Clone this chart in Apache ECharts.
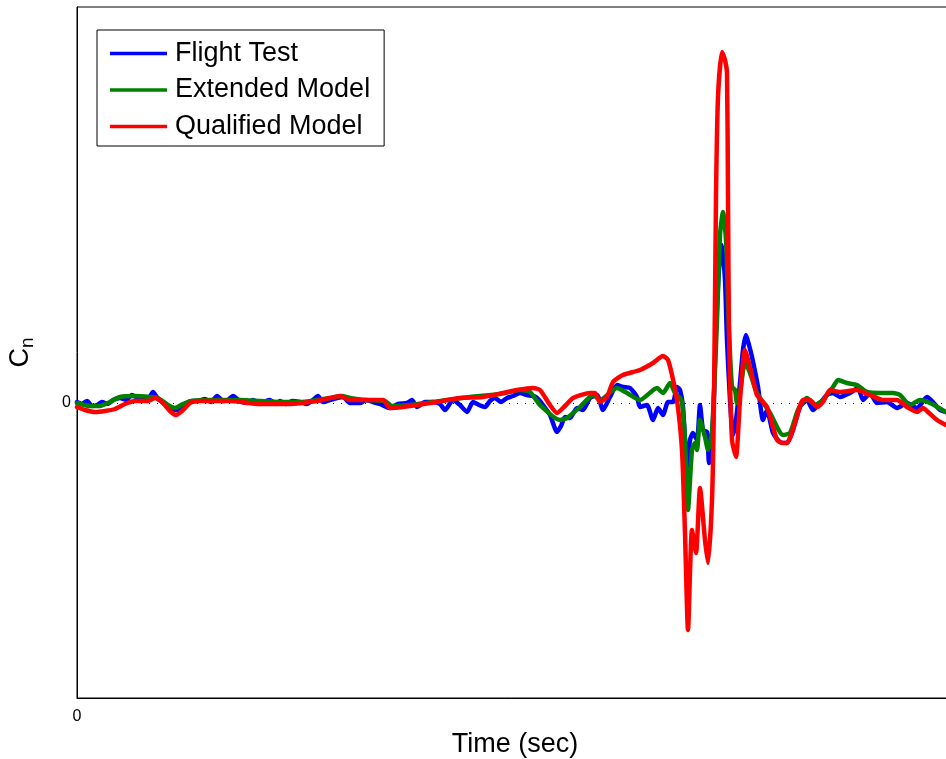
<!DOCTYPE html>
<html>
<head>
<meta charset="utf-8">
<script src="https://cdn.jsdelivr.net/npm/echarts@6/dist/echarts.min.js"></script>
<style>
html,body{margin:0;padding:0;background:#fff;}
#chart{width:946px;height:759px;}
</style>
</head>
<body>
<div id="chart"></div>
<script>
// Series names
var seriesNames = ['Flight Test', 'Extended Model', 'Qualified Model'];
// Tick labels shown
var xTickLabels = ['0'];
var yTickLabels = ['0'];

// [time, Cn]
var flightTest = [
[0,0.001],[0.5,-0.001],[1.0,0.002],[1.5,-0.003],[2.0,-0.002],[2.5,0.001],[3.1,-0.001],[3.6,0.003],
[4.3,0.005],[4.9,0.003],[5.5,0.008],[6.1,0.005],[6.6,0.006],[7.1,0.004],[7.6,0.011],[8.1,0.004],
[8.8,-0.001],[9.5,-0.007],[10.1,-0.007],[10.8,-0.001],[11.5,0.002],[12.1,0.002],[12.8,0.004],[13.4,0.001],
[14.0,0.007],[14.6,0.002],[15.1,0.003],[15.6,0.007],[16.3,0.002],[17.0,0],[17.6,0.003],[18.3,-0.001],
[18.9,0.002],[19.3,0.003],[19.9,-0.001],[20.3,0.002],[20.9,-0.001],[21.5,0.002],[22.3,0.001],[23.0,-0.001],
[23.6,0.003],[24.1,0.007],[24.6,0.001],[25.3,0.003],[26.0,0.005],[26.6,0.006],[27.3,0],[28.3,0],
[28.9,0.003],[29.6,0.001],[30.3,-0.001],[31.3,-0.005],[32.1,-0.001],[33.0,0],[33.5,0.003],[34.0,-0.004],
[34.8,0.001],[35.6,0.001],[36.3,-0.001],[36.8,-0.007],[37.6,0.003],[38.3,-0.002],[39.0,-0.009],[39.6,0.001],
[40.2,-0.002],[40.8,-0.004],[41.3,0.002],[41.8,0.005],[42.4,0.001],[43.0,0.005],[43.6,0.007],[44.3,0.010],
[45.0,0.008],[45.6,0.007],[46.0,0.005],[46.6,-0.002],[47.3,-0.012],[48.0,-0.029],[48.4,-0.023],[48.8,-0.014],
[49.3,-0.015],[50.0,-0.005],[50.6,-0.007],[51.3,0.005],[52.0,0.008],[52.6,-0.007],[53.3,0.006],[54.0,0.018],
[54.6,0.016],[55.3,0.015],[56.0,0.006],[56.3,-0.004],[57.0,-0.002],[57.6,-0.017],[58.1,-0.005],[58.6,-0.012],
[59.1,0.001],[59.6,0.001],[60.0,0.016],[60.3,0.013],[60.6,-0.004],[61.0,-0.064],[61.3,-0.037],[61.6,-0.030],
[62.0,-0.037],[62.3,-0.002],[62.6,-0.027],[63.0,-0.029],[63.2,-0.060],[63.6,-0.017],[63.9,0.073],[64.2,0.133],
[64.5,0.158],[64.8,0.123],[65.0,0.063],[65.3,0.003],[65.6,-0.032],[65.9,-0.017],[66.3,0.020],[66.6,0.053],
[66.9,0.068],[67.2,0.058],[67.5,0.046],[68.1,0.016],[68.6,-0.017],[69.0,-0.007],[69.6,-0.030],[70.3,-0.039],
[71.0,-0.040],[71.6,-0.027],[72.3,-0.004],[73.0,0.003],[73.6,-0.007],[74.3,0],[75.0,0.008],[75.6,0.010],
[76.3,0.006],[77.3,0.010],[78.1,0.015],[78.6,0.003],[79.3,0.010],[80.0,0],[81.0,0.001],[82.0,-0.005],
[83.0,0],[84.0,-0.005],[85.0,0.006],[85.6,0.001],[86.3,-0.007],[86.9,-0.009]
];

var extendedModel = [
[0,0],[1.3,-0.003],[2.3,-0.003],[3.3,0.001],[4.3,0.006],[5.8,0.007],[7.3,0.006],[8.1,0.005],
[9.1,-0.002],[9.8,-0.005],[10.6,-0.001],[11.5,0.002],[13.3,0.003],[16.3,0.003],[18.3,0.002],[20.3,0.001],
[22.3,0.001],[24.0,0.003],[25.3,0.005],[26.5,0.007],[27.3,0.005],[28.8,0.003],[30.8,0.002],[31.5,-0.003],
[33.3,-0.002],[36.3,0.002],[39.3,0.006],[42.3,0.009],[44.3,0.013],[45.3,0.011],[46.3,-0.002],[48.3,-0.017],
[49.0,-0.015],[50.3,-0.004],[51.6,0.008],[52.3,0.003],[54.0,0.015],[55.0,0.010],[56.3,0.003],[58.0,0.015],
[58.6,0.010],[59.3,0.020],[59.8,0.010],[60.3,0.005],[60.5,0.001],[60.8,-0.037],[61.1,-0.107],[61.5,-0.047],
[61.8,-0.040],[62.0,-0.047],[62.3,-0.017],[62.8,-0.034],[63.1,-0.047],[63.5,-0.030],[64.0,0.083],[64.3,0.168],
[64.6,0.191],[64.9,0.163],[65.2,0.073],[65.5,0.016],[65.8,0.013],[66.0,0],[66.3,0.010],[66.8,0.041],
[67.3,0.030],[68.0,0.010],[69.3,-0.010],[70.6,-0.032],[71.3,-0.030],[72.1,-0.007],[73.0,0.005],[73.8,-0.002],
[74.6,0.003],[75.6,0.016],[76.1,0.023],[77.0,0.020],[78.0,0.018],[79.0,0.011],[80.3,0.010],[81.6,0.010],
[82.3,0.008],[83.3,-0.002],[84.3,0.003],[85.3,0],[86.9,-0.009]
];

var qualifiedModel = [
[0,-0.004],[0.8,-0.007],[1.8,-0.009],[2.8,-0.008],[3.8,-0.006],[4.8,-0.001],[5.8,0.002],[7.1,0.002],
[7.8,0.005],[8.5,0.001],[9.3,-0.008],[9.9,-0.012],[10.6,-0.007],[11.3,0],[12.3,0.002],[15.3,0.002],
[18.3,-0.001],[21.3,-0.001],[24.0,0.002],[25.3,0.005],[26.3,0.007],[27.3,0.003],[30.6,0.003],[31.3,-0.005],
[32.6,-0.004],[36.0,0.001],[38.3,0.005],[40.6,0.006],[42.6,0.010],[44.0,0.013],[45.6,0.015],[46.3,0.013],
[47.3,-0.002],[48.0,-0.010],[48.8,-0.003],[49.6,0.005],[51.3,0.010],[51.8,0.010],[52.3,0.001],[53.0,0.006],
[53.6,0.021],[54.6,0.028],[56.3,0.033],[57.6,0.040],[58.6,0.047],[59.1,0.043],[59.5,0.028],[60.0,0.003],
[60.5,-0.047],[60.8,-0.130],[61.1,-0.227],[61.5,-0.127],[61.9,-0.150],[62.3,-0.085],[62.8,-0.137],[63.1,-0.160],
[63.5,-0.097],[63.7,0.003],[63.9,0.206],[64.1,0.306],[64.5,0.351],[64.8,0.343],[65.0,0.330],[65.1,0.206],
[65.2,0.073],[65.5,-0.037],[65.9,-0.054],[66.3,0.003],[66.8,0.053],[67.3,0.036],[68.0,0.008],[69.0,-0.004],
[70.0,-0.037],[70.5,-0.040],[71.0,-0.040],[71.8,-0.020],[72.6,0.003],[73.3,0.003],[74.0,-0.004],[74.6,0.001],
[75.3,0.013],[76.3,0.011],[78.0,0.013],[79.3,0.008],[80.6,0.003],[82.0,0.003],[83.0,-0.004],[84.0,-0.009],
[84.6,-0.005],[85.1,-0.009],[86.0,-0.017],[86.9,-0.022]
];

var colors = ['#0000ff', '#008000', '#ff0000'];
var FONT = "'Liberation Sans', Arial, Helvetica, sans-serif";

var chart = echarts.init(document.getElementById('chart'), null, {renderer: 'canvas'});

function mkSeries(name, data, color, extra) {
  var s = {
    name: name,
    type: 'line',
    data: data,
    showSymbol: false,
    symbol: 'none',
    smooth: 0.2,
    lineStyle: {color: color, width: 4.5, join: 'round', cap: 'round'},
    itemStyle: {color: color},
    animation: false,
    z: 3
  };
  if (extra) { for (var k in extra) s[k] = extra[k]; }
  return s;
}

var option = {
  backgroundColor: '#ffffff',
  animation: false,
  grid: {
    left: 77, top: 7, right: -7, bottom: 61,
    containLabel: false,
    outerBoundsMode: 'none',
    show: true, borderColor: '#000', borderWidth: 1, backgroundColor: 'transparent'
  },
  legend: {
    orient: 'vertical',
    left: 97, top: 30,
    data: seriesNames,
    icon: 'rect',
    itemWidth: 57, itemHeight: 3.5,
    itemGap: 9.5,
    padding: [10, 14, 6, 13],
    backgroundColor: '#fff',
    borderColor: '#000', borderWidth: 1, borderRadius: 0,
    textStyle: {fontFamily: FONT, fontSize: 27, color: '#000', lineHeight: 26, padding: [0,0,0,3]}
  },
  xAxis: {
    type: 'value',
    min: 0, max: 87.6, interval: 10,
    name: 'Time (sec)',
    nameLocation: 'middle',
    nameGap: 33,
    nameTextStyle: {fontFamily: FONT, fontSize: 27, color: '#000'},
    axisLine: {show: true, onZero: false, lineStyle: {color: '#000', width: 1}},
    axisTick: {show: false},
    splitLine: {show: false},
    axisLabel: {
      fontFamily: FONT, fontSize: 16, color: '#000', margin: 11,
      showMaxLabel: false,
      formatter: function (v) { return v === 0 ? xTickLabels[0] : ''; }
    }
  },
  yAxis: {
    type: 'value',
    min: -0.295, max: 0.396,
    name: '{c|C}{n|n}',
    nameLocation: 'middle',
    nameRotate: 90,
    nameGap: 40,
    nameTextStyle: {
      fontFamily: FONT, color: '#000',
      rich: {
        c: {fontFamily: FONT, fontSize: 27, color: '#000', lineHeight: 30, verticalAlign: 'top'},
        n: {fontFamily: FONT, fontSize: 19, color: '#000', lineHeight: 30, verticalAlign: 'bottom'}
      }
    },
    axisLine: {show: true, onZero: false, lineStyle: {color: '#000', width: 1}},
    axisTick: {show: false},
    splitLine: {show: false},
    axisLabel: {
      fontFamily: FONT, fontSize: 16, color: '#000', margin: 6,
      showMinLabel: false, showMaxLabel: false,
      formatter: function (v) { return Math.abs(v) < 1e-9 ? yTickLabels[0] : ''; }
    }
  },
  series: [
    mkSeries(seriesNames[0], flightTest, colors[0], {
      markLine: {
        silent: true,
        symbol: ['none', 'none'],
        label: {show: false},
        lineStyle: {color: '#000', width: 1, type: [1, 7]},
        data: [{yAxis: 0}],
        z: 1,
        animation: false
      }
    }),
    mkSeries(seriesNames[1], extendedModel, colors[1]),
    mkSeries(seriesNames[2], qualifiedModel, colors[2])
  ]
};
chart.setOption(option);
</script>
</body>
</html>
